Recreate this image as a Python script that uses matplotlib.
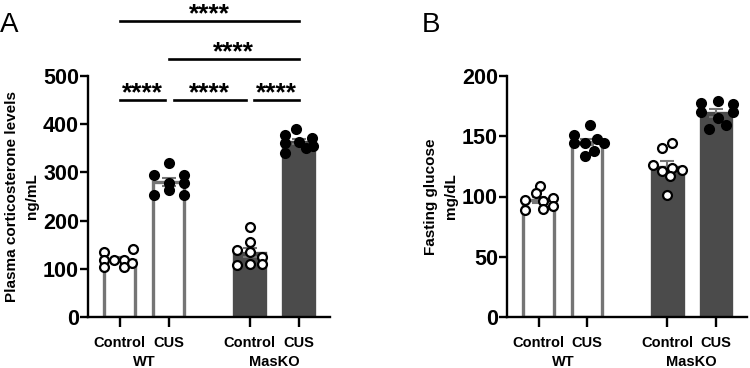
import matplotlib
matplotlib.use("Agg")
import matplotlib.pyplot as plt
import numpy as np

plt.rcParams['font.family'] = ['Liberation Sans', 'DejaVu Sans']

categories = ["Control", "CUS", "Control", "CUS"]
groups = ["WT", "MasKO"]

cort_wt_ctrl = [135, 119, 104, 118, 118, 104, 113, 142]
cort_wt_cus = [320, 295, 295, 277, 277, 263, 253, 253]
cort_ko_ctrl = [187, 155, 139, 135, 125, 108, 109, 109]
cort_ko_cus = [391, 378, 371, 360, 364, 350, 355, 340]

glu_wt_ctrl = [109, 103, 97, 96, 99, 89, 90, 92]
glu_wt_cus = [159, 151, 144, 144, 148, 144, 138, 134]
glu_ko_ctrl = [140, 144, 126, 121, 124, 122, 117, 101]
glu_ko_cus = [178, 179, 177, 170, 170, 165, 156, 159]

sig_label = "****"

pos = np.array([0, 1, 2.65, 3.65])
W = 0.63
face = ['white', 'white', '#4b4b4b', '#4b4b4b']
edge = ['#757575', '#757575', '#4b4b4b', '#4b4b4b']
mface = ['white', 'black', 'white', 'black']
# jitter pattern (layout), 8 points per group
jit_A = [
    [-0.32, -0.32, -0.32, -0.12, 0.08, 0.08, 0.25, 0.27],
    [0.0, -0.3, 0.3, 0.0, 0.3, 0.0, -0.3, 0.3],
    [0.0, 0.0, -0.25, 0.0, 0.25, -0.25, 0.0, 0.25],
    [-0.05, -0.27, 0.27, -0.27, 0.0, 0.15, 0.3, -0.27],
]
jit_B = [
    [0.03, -0.05, -0.27, 0.1, 0.3, -0.27, 0.1, 0.3],
    [0.05, -0.27, -0.27, -0.05, 0.2, 0.35, 0.15, -0.05],
    [-0.1, 0.1, -0.3, -0.1, 0.1, 0.3, 0.05, 0.0],
    [-0.3, 0.05, 0.35, -0.3, 0.35, 0.05, -0.15, 0.2],
]

fig = plt.figure(figsize=(7.5, 3.68), dpi=100)
axA = fig.add_axes([88/750, 51/368, 242/750, 241/368])
axB = fig.add_axes([507/750, 51/368, 240/750, 241/368])


def draw(ax, data, jit, ymax, yticks, ylabel):
    for i, d in enumerate(data):
        d = np.array(d, dtype=float)
        m = d.mean()
        sem = d.std(ddof=1) / np.sqrt(len(d))
        ax.bar(pos[i], m, width=W, color=face[i], edgecolor=edge[i], linewidth=2.4, zorder=2)
        ax.errorbar(pos[i], m, yerr=sem, fmt='none', ecolor=edge[i] if i < 2 else '#757575',
                    elinewidth=1.5, capsize=5, capthick=1.5, zorder=3)
        ax.plot(pos[i] + np.array(jit[i]), d, 'o', ms=6.4, mfc=mface[i], mec='black',
                mew=1.6, zorder=4, clip_on=False, linestyle='none')
    ax.set_xlim(-0.65, 4.29)
    ax.set_ylim(0, ymax)
    ax.set_yticks(yticks)
    ax.spines['top'].set_visible(False)
    ax.spines['right'].set_visible(False)
    for s in ['left', 'bottom']:
        ax.spines[s].set_linewidth(1.7)
    ax.tick_params(axis='both', width=1.7)
    ax.tick_params(axis='y', labelsize=15.5, length=6, pad=0.5)
    ax.tick_params(axis='x', length=7, pad=6.5)
    ax.set_xticks(pos)
    ax.set_xticklabels(categories, fontsize=10.5, fontweight='bold')
    for lab in ax.get_yticklabels():
        lab.set_fontweight('bold')
    ax.set_ylabel(ylabel, fontsize=11, fontweight='bold', linespacing=1.5, labelpad=3)
    for g, xc in zip(groups, [(pos[0] + pos[1]) / 2, (pos[2] + pos[3]) / 2]):
        ax.text(xc, -0.185, g, transform=ax.get_xaxis_transform(), ha='center', va='center',
                fontsize=10.5, fontweight='bold')


draw(axA, [cort_wt_ctrl, cort_wt_cus, cort_ko_ctrl, cort_ko_cus], jit_A, 500,
     [0, 100, 200, 300, 400, 500], "Plasma corticosterone levels\nng/mL")
draw(axB, [glu_wt_ctrl, glu_wt_cus, glu_ko_ctrl, glu_ko_cus], jit_B, 200,
     [0, 50, 100, 150, 200], "Fasting glucose\nmg/dL")

# significance bars for panel A
sig = [(0.0, 0.92, 450), (1.1, 2.57, 450), (2.73, 3.65, 450), (1.0, 3.65, 535), (0.0, 3.65, 614)]
for x0, x1, y in sig:
    axA.plot([x0, x1], [y, y], color='black', lw=1.9, clip_on=False)
    axA.text((x0 + x1) / 2, y - 1, sig_label, ha='center', va='baseline', fontsize=19,
             fontweight='bold', clip_on=False)

fig.text(0.0, 0.932, "A", fontsize=20, ha='left', va='center')
fig.text(422/750, 0.932, "B", fontsize=20, ha='left', va='center')

fig.savefig("out.png", dpi=100)
